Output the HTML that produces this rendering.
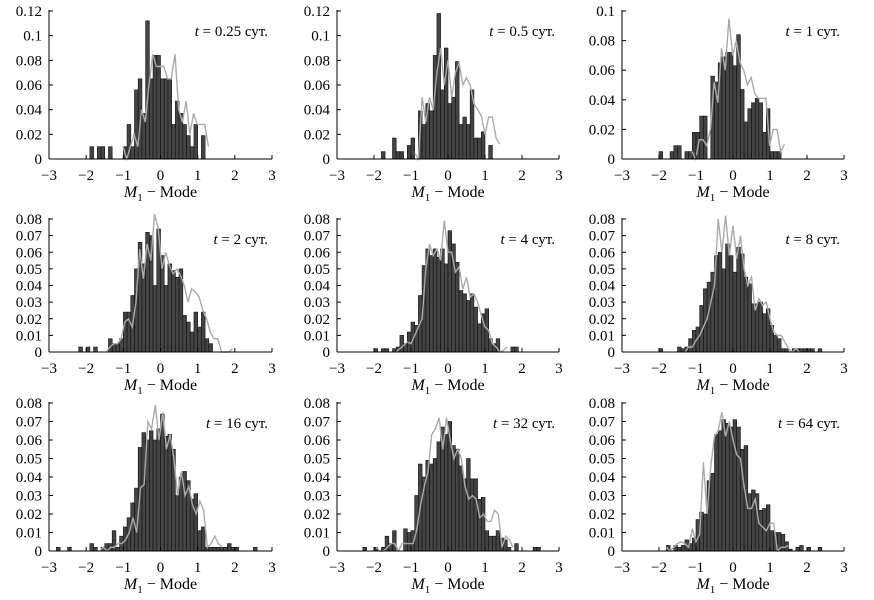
<!DOCTYPE html>
<html><head><meta charset="utf-8">
<style>
html,body{margin:0;padding:0;background:#fff;}
svg{display:block;font-family:"Liberation Serif",serif;}
</style></head>
<body>
<svg id="chart" width="874" height="600" viewBox="0 0 874 600" xmlns="http://www.w3.org/2000/svg"></svg>
<script>
// Panel titles
const titles = ["0.25","0.5","1","2","4","8","16","32","64"];
// y-axis maxima per panel
const yMaxes = [0.12,0.12,0.1,0.08,0.08,0.08,0.08,0.08,0.08];
const yTickSteps = [0.02,0.02,0.02,0.01,0.01,0.01,0.01,0.01,0.01];
const xTickLabels = [-3,-2,-1,0,1,2,3];
// histogram bins: left edge of first bin, width 0.1
const barStarts = [-1.9,-1.8,-2.0,-2.2,-2.0,-2.0,-2.8,-2.3,-1.8];
const bars1 = [0.01,0,0.01,0.01,0,0.01,0,0,0,0.01,0.028,0.01,0.056,0.065,0.037,0.112,0.065,0.084,0.084,0.065,0.065,0.065,0.028,0.047,0.037,0.028,0.019,0.01,0.028,0,0.019];
const bars2 = [0.006,0,0,0.017,0.006,0.006,0,0.011,0.017,0,0.039,0.028,0.045,0.039,0.084,0.118,0.056,0.09,0.045,0.05,0.079,0.028,0.034,0.028,0.056,0.017,0.017,0.022,0,0.011];
const bars3 = [0.005,0,0,0.005,0.009,0.009,0,0.005,0.005,0.018,0.018,0.029,0.029,0,0.056,0.052,0.065,0.069,0.072,0.072,0.063,0.084,0.047,0.025,0.034,0.038,0.041,0.038,0.018,0.034,0.005,0.005,0.005];
const bars4 = [0.003,0,0.003,0,0.003,0,0,0,0.008,0.005,0.005,0.008,0.024,0.024,0.034,0.05,0.066,0.053,0.072,0.07,0.04,0.074,0.058,0.04,0.053,0.049,0.045,0.05,0.022,0.018,0.012,0.024,0.015,0.024,0.008,0.005];
const bars5 = [0.002,0,0.002,0.002,0,0.002,0.003,0.01,0.005,0.012,0.018,0.016,0.034,0.052,0.062,0.058,0.062,0.057,0.062,0.053,0.073,0.065,0.054,0.037,0.035,0.031,0.035,0.027,0.017,0.023,0.026,0.008,0.005,0.008,0,0,0,0.003,0.003];
const bars6 = [0.002,0,0,0,0,0.003,0.002,0.003,0.008,0.013,0.015,0.028,0.038,0.042,0.048,0.058,0.06,0.05,0.065,0.058,0.048,0.063,0.059,0.045,0.041,0.029,0.029,0.03,0.023,0.026,0.016,0.01,0.008,0.002,0.002,0,0.002,0.002,0.002,0.002,0.002,0.002,0,0.002];
const bars7 = [0.002,0,0,0.002,0,0,0,0,0,0.004,0.002,0,0.002,0.004,0.004,0.011,0.002,0.008,0.013,0.018,0.026,0.034,0.056,0.064,0.06,0.065,0.06,0.066,0.074,0.062,0.063,0.055,0.03,0.04,0.043,0.038,0.028,0.031,0.011,0.013,0.002,0.002,0.002,0.002,0.002,0.002,0.004,0.002,0.002,0,0,0,0,0.002];
const bars8 = [0.002,0,0,0.002,0,0.002,0.008,0.004,0.011,0,0,0.012,0.01,0.011,0.03,0.047,0.04,0.049,0.047,0.05,0.059,0.067,0.063,0.07,0.057,0.055,0.046,0.039,0.05,0.039,0.039,0.028,0.029,0.011,0.008,0.008,0.011,0.007,0.006,0.002,0,0.004,0,0,0,0,0.002,0.002];
const bars9 = [0.003,0,0.003,0.002,0.003,0.006,0.004,0.007,0.017,0.021,0.02,0.038,0.042,0.063,0.065,0.071,0.069,0.067,0.071,0.067,0.055,0.057,0.031,0.033,0.031,0.022,0.023,0.025,0.011,0.01,0.01,0.009,0.005,0.001,0,0.002,0.003,0,0.002,0,0,0.002];
const barSeries = [bars1,bars2,bars3,bars4,bars5,bars6,bars7,bars8,bars9];
// smoothed (gray) line series: first point x, step 0.1
const lineStarts = [-1.01,-0.9,-1.11,-1.46,-1.4,-1.3,-1.64,-1.94,-1.8];
const line1 = [0.01,0,0.01,0.02,0.01,0.04,0.03,0.06,0.085,0.075,0.075,0.075,0.065,0.065,0.085,0.04,0.03,0.047,0.02,0.037,0.028,0.028,0.028,0.01];
const line2 = [0.005,0,0.05,0.03,0.05,0.04,0.07,0.09,0.06,0.08,0.05,0.07,0.078,0.06,0.066,0.06,0.045,0.04,0.035,0.02,0.034,0.034,0.017,0.012];
const line3 = [0.005,0,0.013,0.013,0.009,0.02,0.052,0.038,0.075,0.06,0.095,0.07,0.08,0.065,0.06,0.05,0.055,0.044,0.041,0.041,0.041,0.009,0.02,0.02,0.005,0.01];
const line4 = [0,0.003,0.005,0.005,0.008,0.018,0.02,0.015,0.03,0.062,0.044,0.065,0.055,0.083,0.074,0.05,0.06,0.052,0.047,0.05,0.046,0.04,0.03,0.038,0.036,0.033,0.025,0.02,0.012,0.008,0.008,0,0,0,0.002];
const line5 = [0,0.002,0.004,0.006,0.005,0.01,0.015,0.02,0.05,0.065,0.058,0.062,0.055,0.079,0.06,0.06,0.048,0.051,0.038,0.045,0.033,0.035,0.03,0.022,0.015,0.013,0.005,0.003,0,0.001,0.003];
const line6 = [0,0.003,0.003,0.007,0.01,0.015,0.02,0.03,0.04,0.08,0.06,0.082,0.058,0.076,0.056,0.07,0.05,0.04,0.045,0.025,0.032,0.028,0.03,0.02,0.012,0.01,0.01,0.006,0.002,0,0.002,0];
const line7 = [0,0.002,0,0.002,0.002,0.004,0.004,0.006,0.01,0.018,0.01,0.034,0.036,0.07,0.066,0.079,0.06,0.075,0.055,0.063,0.05,0.03,0.043,0.03,0.035,0.025,0.02,0.027,0.022,0.002,0.004,0.008,0.004,0.002];
const line8 = [0.002,0,0,0.002,0.004,0.004,0,0.004,0.004,0.004,0.004,0.012,0.025,0.035,0.043,0.063,0.066,0.072,0.055,0.072,0.06,0.05,0.055,0.05,0.035,0.028,0.03,0.028,0.018,0.02,0.016,0.016,0.022,0.02,0.002,0.008,0.006,0.002];
const line9 = [0.002,0,0.002,0.004,0.005,0.004,0.002,0.012,0.005,0.009,0.048,0.02,0.046,0.062,0.065,0.075,0.062,0.07,0.06,0.052,0.05,0.035,0.023,0.023,0.028,0.015,0.013,0.011,0.015,0.015,0,0.002,0.002,0.003];
const lineSeries = [line1,line2,line3,line4,line5,line6,line7,line8,line9];

const NS = "http://www.w3.org/2000/svg";
const svg = document.getElementById("chart");
const colLeft = [49,337,622], colRight = [272,559,844];
const rowBase = [159,352,551], rowTop = [11,219,403];
function mk(tag, attrs, parent){const e=document.createElementNS(NS,tag);for(const k in attrs)e.setAttribute(k,attrs[k]);parent.appendChild(e);return e;}

for(let p=0;p<9;p++){
  const c=p%3, r=Math.floor(p/3);
  const g=mk("g",{},svg);
  
  
  const x=v=>colLeft[c]+(v+3)*(colRight[c]-colLeft[c])/6;
  const y=v=>rowBase[r]-v*(rowBase[r]-rowTop[r])/yMaxes[p];
  const bw=0.1;
  barSeries[p].forEach((v,i)=>{
    if(v<=0) return;
    const x0=x(barStarts[p]+i*bw), x1=x(barStarts[p]+(i+1)*bw);
    const b=mk("rect",{x:x0.toFixed(2),y:y(v).toFixed(2),width:(x1-x0).toFixed(2),height:(rowBase[r]-y(v)).toFixed(2),fill:"#444",stroke:"#111","stroke-width":0.6},g);
    
    
  });
  const pts=lineSeries[p].map((v,i)=>x(lineStarts[p]+i*0.1).toFixed(2)+","+y(v).toFixed(2)).join(" ");
  const pl=mk("polyline",{points:pts,fill:"none",stroke:"#aaa","stroke-width":1.4},g);
  
  
  const xa=mk("line",{x1:colLeft[c],y1:rowBase[r],x2:colRight[c],y2:rowBase[r],stroke:"#000","stroke-width":1},g);
  
  
  const ya=mk("line",{x1:colLeft[c],y1:rowBase[r],x2:colLeft[c],y2:rowTop[r]-1,stroke:"#000","stroke-width":1},g);
  
  
  xTickLabels.forEach(t=>{
    mk("line",{x1:x(t),y1:rowBase[r],x2:x(t),y2:rowBase[r]-4,stroke:"#000","stroke-width":1},g);
    const tx=mk("text",{x:x(t),y:rowBase[r]+21,"text-anchor":"middle","font-size":15},g);
    tx.textContent=t<0?"\u2212"+(-t):String(t);
    
    
  });
  const n=Math.round(yMaxes[p]/yTickSteps[p]);
  for(let k=0;k<=n;k++){
    const v=k*yTickSteps[p];
    mk("line",{x1:colLeft[c],y1:y(v),x2:colLeft[c]+4,y2:y(v),stroke:"#000","stroke-width":1},g);
    const ty=mk("text",{x:colLeft[c]-7,y:y(v)+5,"text-anchor":"end","font-size":15},g);
    ty.textContent=k===0?"0":String(+v.toFixed(2));
    
    
  }
  const xt=mk("text",{x:(colLeft[c]+colRight[c])/2,y:rowBase[r]+38,"text-anchor":"middle","font-size":16},g);
  xt.innerHTML='<tspan font-style="italic">M</tspan><tspan font-size="11" dy="4">1</tspan><tspan dy="-4"> \u2212 Mode</tspan>';
  
  
  const tt=mk("text",{x:colRight[c]-4,y:rowTop[r]+25,"text-anchor":"end","font-size":15},g);
  tt.innerHTML='<tspan font-style="italic">t</tspan> = '+titles[p]+' сут.';
  
  
}
</script>
</body></html>
